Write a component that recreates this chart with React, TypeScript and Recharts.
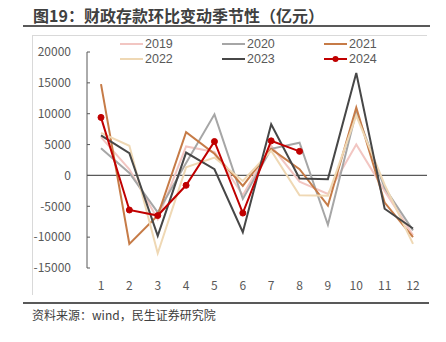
import { LineChart, Line, XAxis, YAxis, ReferenceLine } from "recharts"

const months = ["1", "2", "3", "4", "5", "6", "7", "8", "9", "10", "11", "12"]
const yTicks = [-15000, -10000, -5000, 0, 5000, 10000, 15000, 20000]

const y2019 = [6200, 1000, -7100, 4700, 3800, -3200, 4800, -1000, -3000, 5000, -2500, -9700]
const y2020 = [4400, 400, -6000, 2000, 9900, -3800, 4300, 5300, -8000, 10300, -2000, -8900]
const y2021 = [14800, -11100, -6500, 7000, 3500, -1700, 4300, 1000, -4900, 11000, -4400, -10000]
const y2022 = [6900, 4800, -12600, 1300, 2900, -900, 4000, -3200, -3300, 9700, -1500, -11100]
const y2023 = [6500, 3600, -9800, 3700, 1000, -9200, 8300, -500, -600, 16600, -5400, -8600]
const y2024 = [9400, -5600, -6500, -1600, 5500, -6100, 5600, 3900, null, null, null, null]

const series = [
  { key: "2019", values: y2019, color: "#F2C6C2", dot: false },
  { key: "2020", values: y2020, color: "#A6A6A6", dot: false },
  { key: "2021", values: y2021, color: "#C67B47", dot: false },
  { key: "2022", values: y2022, color: "#EFD8B4", dot: false },
  { key: "2023", values: y2023, color: "#474747", dot: false },
  { key: "2024", values: y2024, color: "#C00000", dot: true },
]

const data = months.map((m, i) => {
  const row: Record<string, string | number | null> = { month: m }
  for (const s of series) row[s.key] = s.values[i]
  return row
})

const font = "'Noto Sans CJK SC', 'Open Sans', sans-serif"
const tickStyle = { fontSize: 12, fill: "#595959", fontFamily: font }

// legend: 3 columns, 2 rows
function ChartLegend() {
  const colX = [120, 222, 324]
  const rowY = [44, 59]
  return (
    <>
      {series.map((s, i) => {
        const left = colX[i % 3]
        const top = rowY[Math.floor(i / 3)]
        return (
          <div
            key={s.key}
            style={{ position: "absolute", left, top: top - 7, height: 14, display: "flex", alignItems: "center" }}
          >
            <svg width={24} height={14} style={{ display: "block" }}>
              <line x1={0} y1={7} x2={23} y2={7} stroke={s.color} strokeWidth={2} />
              {s.dot && <circle cx={11.5} cy={7} r={3} fill={s.color} />}
            </svg>
            <span
              style={{
                fontSize: 12.5,
                color: "#595959",
                fontFamily: "'Liberation Sans', Arial, sans-serif",
                marginLeft: 1,
                lineHeight: "14px",
              }}
            >
              {s.key}
            </span>
          </div>
        )
      })}
    </>
  )
}

export default function App() {
  return (
    <div style={{ position: "absolute", left: 0, top: 0, width: 446, height: 342, background: "#fff", overflow: "hidden" }}>
      <div
        style={{
          position: "absolute",
          left: 33,
          top: 4,
          fontSize: 16,
          fontWeight: "bold",
          color: "#404040",
          fontFamily: font,
          lineHeight: "22px",
          whiteSpace: "nowrap",
        }}
      >
        图19：财政存款环比变动季节性（亿元）
      </div>
      <div style={{ position: "absolute", left: 23, top: 25, width: 407, height: 2, background: "#595959" }} />
      <div style={{ position: "absolute", left: 32, top: 35, width: 395, height: 1, background: "#D9D9D9" }} />
      <div style={{ position: "absolute", left: 32, top: 35, width: 1, height: 260, background: "#D9D9D9" }} />

      <div style={{ position: "absolute", left: 0, top: 0 }}>
        <LineChart width={446} height={342} data={data} margin={{ top: 52, right: 19, left: 27, bottom: 44 }}>
          <XAxis
            dataKey="month"
            tick={tickStyle}
            axisLine={false}
            tickLine={false}
            tickSize={0}
            tickMargin={13}
            height={30}
            interval={0}
            padding={{ left: 14, right: 14 }}
          />
          <YAxis
            domain={[-15000, 20000]}
            ticks={yTicks}
            tick={tickStyle}
            width={60}
            axisLine={{ stroke: "#595959", strokeWidth: 1 }}
            tickLine={{ stroke: "#595959" }}
            tickSize={-3}
            tickMargin={19}
            interval={0}
          />
          <ReferenceLine y={0} stroke="#595959" strokeWidth={1.3} />
          {series.map((s) => (
            <Line
              key={s.key}
              dataKey={s.key}
              stroke={s.color}
              strokeWidth={2}
              type="linear"
              dot={s.dot ? { r: 3, fill: s.color, stroke: s.color, strokeWidth: 1 } : false}
              activeDot={false}
              isAnimationActive={false}
            />
          ))}
        </LineChart>
      </div>

      <ChartLegend />

      <div style={{ position: "absolute", left: 23, top: 302, width: 406, height: 2, background: "#595959" }} />
      <div
        style={{
          position: "absolute",
          left: 32,
          top: 307,
          fontSize: 12,
          color: "#404040",
          fontFamily: font,
          lineHeight: "16px",
          whiteSpace: "nowrap",
        }}
      >
        资料来源：wind，民生证券研究院
      </div>
    </div>
  )
}
